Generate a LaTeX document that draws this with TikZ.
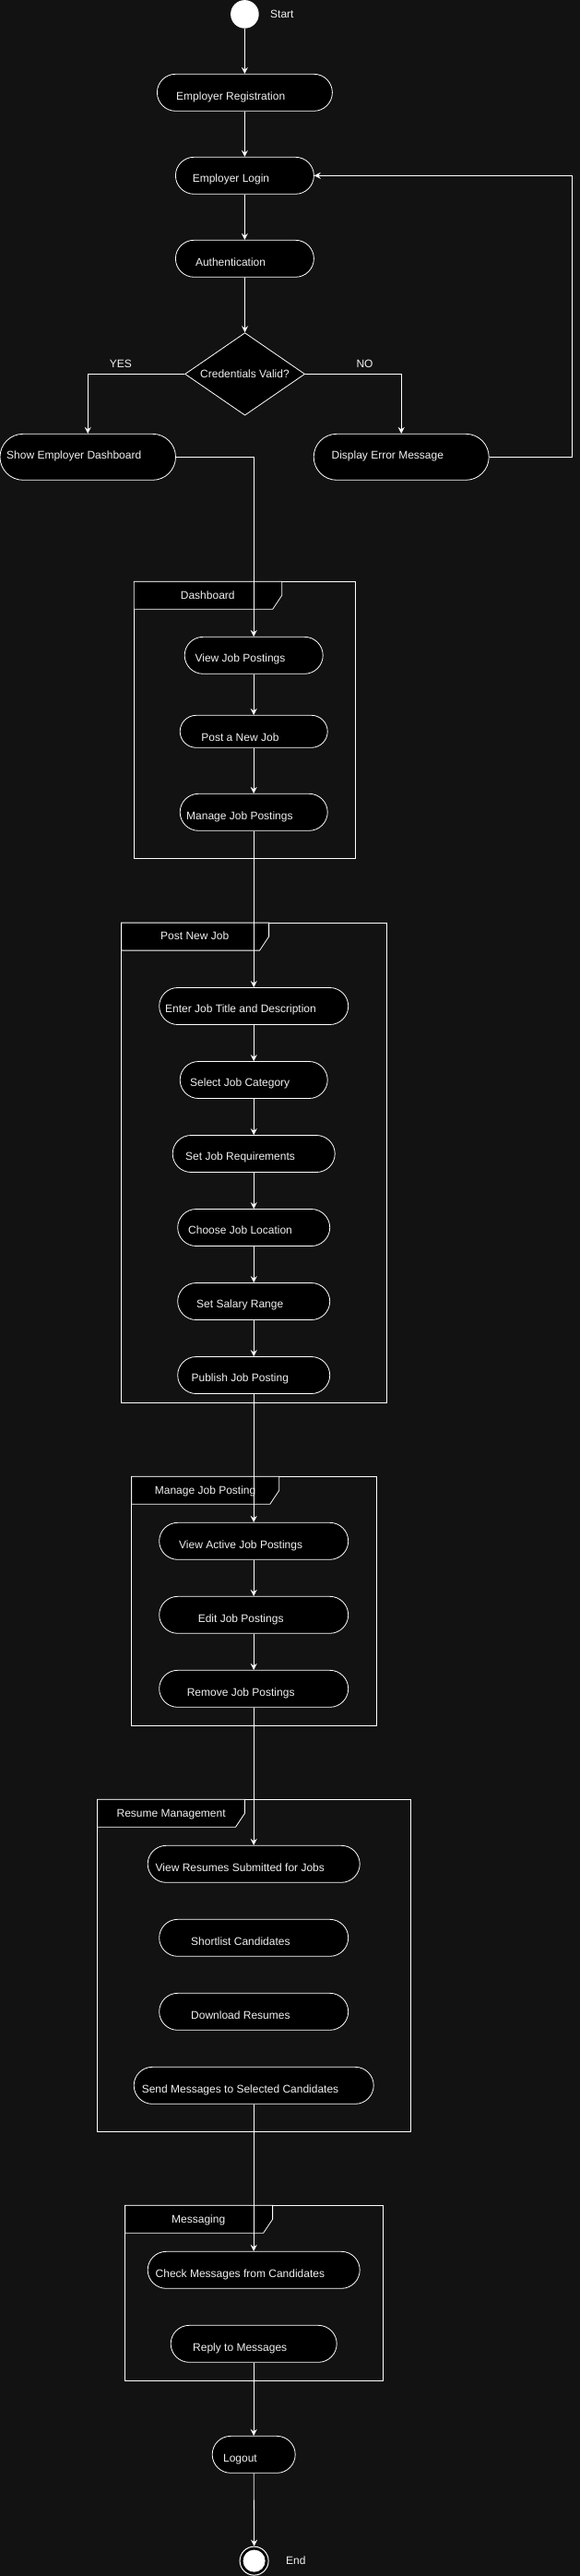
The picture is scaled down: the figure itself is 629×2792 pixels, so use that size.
\documentclass[tikz,border=0pt]{standalone}
\usepackage{fontspec}
\setmainfont{Liberation Sans}
\usetikzlibrary{shapes.misc,shapes.geometric,arrows.meta}
\definecolor{bg}{RGB}{18,18,18}
\definecolor{ink}{RGB}{240,240,240}
\begin{document}
\begin{tikzpicture}[x=1pt,y=-1pt,
  act/.style={rounded rectangle, draw=white, fill=black, line width=0.8pt, inner sep=0pt},
  lbl/.style={anchor=base west, inner sep=0pt, text=ink, font=\fontsize{12pt}{14pt}\selectfont},
  framebox/.style={draw=white, line width=0.8pt},
  tabbox/.style={draw=white, fill=black, line width=0.8pt},
  flow/.style={draw=white, line width=0.8pt, -{Stealth[length=7pt,width=7pt,inset=2.5pt]}},
  plain/.style={draw=white, line width=0.8pt}]
\fill[bg] (0,0) rectangle (629,2792);
\useasboundingbox (0,0) rectangle (629,2792);

% ---------- frames ----------
\draw[framebox] (145.2,630.3) rectangle (385.5,930.3);
\filldraw[tabbox] (145.2,630.3) -- (305.7,630.3) -- (305.7,645.3) -- (295.7,660.3) -- (145.2,660.3) -- cycle;
\node[lbl] (tdash) at (195.7,649.0) {Dashboard};

\draw[framebox] (131.6,1000.1) rectangle (419.6,1520.2);
\filldraw[tabbox] (131.6,1000.1) -- (291.6,1000.1) -- (291.6,1015.1) -- (281.6,1030.1) -- (131.6,1030.1) -- cycle;
\node[lbl] (tpost) at (174,1018.6) {Post New Job};

\draw[framebox] (142.8,1600.3) rectangle (408.3,1870.3);
\filldraw[tabbox] (142.8,1600.3) -- (302.8,1600.3) -- (302.8,1615.3) -- (292.8,1630.3) -- (142.8,1630.3) -- cycle;
\node[lbl] (tmanage) at (167.7,1619.0) {Manage Job Posting};

\draw[framebox] (105.5,1950.3) rectangle (445.2,2310.3);
\filldraw[tabbox] (105.5,1950.3) -- (265.5,1950.3) -- (265.5,1965.3) -- (255.5,1980.3) -- (105.5,1980.3) -- cycle;
\node[lbl] (tresume) at (126.4,1969.0) {Resume Management};

\draw[framebox] (135.6,2390.3) rectangle (415.6,2580.3);
\filldraw[tabbox] (135.6,2390.3) -- (295.6,2390.3) -- (295.6,2405.3) -- (285.6,2420.3) -- (135.6,2420.3) -- cycle;
\node[lbl] (tmsg) at (186,2409.0) {Messaging};

% ---------- nodes ----------
\node[circle, fill=white, minimum size=30.6pt, inner sep=0pt] (start) at (265.4,15.4) {};
\node[lbl] at (293,19.3) {Start};

\node[act, minimum width=190pt, minimum height=40pt] (reg) at (265.4,100.3) {};
\node[lbl] at (191,108.0) {Employer Registration};
\node[act, minimum width=150pt, minimum height=40pt] (login) at (265.4,190.3) {};
\node[lbl] at (208.6,197.6) {Employer Login};
\node[act, minimum width=150pt, minimum height=40pt] (auth) at (265.4,280.3) {};
\node[lbl] at (211.8,288.0) {Authentication};
\node[diamond, draw=white, fill=black, line width=0.8pt, inner sep=0pt,
      minimum width=130pt, minimum height=89.5pt] (dec) at (265.6,405.4) {};
\node[lbl] at (217,409.6) {Credentials Valid?};
\node[lbl] at (118.7,398.6) {YES};
\node[lbl] at (386.3,398.6) {NO};

\node[act, minimum width=190.5pt, minimum height=50pt] (sdash) at (95.25,495.3) {};
\node[lbl] at (7,497.8) {Show Employer Dashboard};
\node[act, minimum width=190pt, minimum height=50pt] (err) at (435.2,495.3) {};
\node[lbl] at (359.4,497.8) {Display Error Message};

\node[act, minimum width=150pt, minimum height=40pt] (vjp) at (275.2,710.3) {};
\node[lbl] at (211.4,717.6) {View Job Postings};
\node[act, minimum width=160pt, minimum height=35pt] (pnj) at (275.2,792.8) {};
\node[lbl] at (218.2,803.0) {Post a New Job};
\node[act, minimum width=160pt, minimum height=40pt] (mjp) at (275.2,880.3) {};
\node[lbl] at (202,888.0) {Manage Job Postings};

\node[act, minimum width=205pt, minimum height=40pt] (ejt) at (275.2,1090.5) {};
\node[lbl] at (179,1097.8) {Enter Job Title and Description};
\node[act, minimum width=160pt, minimum height=40pt] (sjc) at (275.2,1170.5) {};
\node[lbl] at (206,1177.8) {Select Job Category};
\node[act, minimum width=176pt, minimum height=40pt] (sjr) at (275.2,1250.5) {};
\node[lbl] at (201,1257.8) {Set Job Requirements};
\node[act, minimum width=165pt, minimum height=40pt] (cjl) at (275.2,1330.5) {};
\node[lbl] at (204,1337.8) {Choose Job Location};
\node[act, minimum width=165pt, minimum height=40pt] (ssr) at (275.2,1410.5) {};
\node[lbl] at (213,1417.7) {Set Salary Range};
\node[act, minimum width=165pt, minimum height=40pt] (pjp) at (275.2,1490.5) {};
\node[lbl] at (207.4,1497.7) {Publish Job Posting};

\node[act, minimum width=205pt, minimum height=40pt] (vaj) at (275.2,1670.3) {};
\node[lbl] at (194,1678.0) {View Active Job Postings};
\node[act, minimum width=205pt, minimum height=40pt] (ejp) at (275.2,1750.3) {};
\node[lbl] at (214.6,1758.0) {Edit Job Postings};
\node[act, minimum width=205pt, minimum height=40pt] (rjp) at (275.2,1830.3) {};
\node[lbl] at (202.6,1838.0) {Remove Job Postings};

\node[act, minimum width=230pt, minimum height=40pt] (vrs) at (275.2,2020.3) {};
\node[lbl] at (168.5,2028.0) {View Resumes Submitted for Jobs};
\node[act, minimum width=205pt, minimum height=40pt] (slc) at (275.2,2100.3) {};
\node[lbl] at (207,2108.0) {Shortlist Candidates};
\node[act, minimum width=205pt, minimum height=40pt] (dlr) at (275.2,2180.3) {};
\node[lbl] at (207,2188.0) {Download Resumes};
\node[act, minimum width=260pt, minimum height=40pt] (smc) at (275.2,2260.3) {};
\node[lbl] at (153.6,2268.0) {Send Messages to Selected Candidates};

\node[act, minimum width=230pt, minimum height=40pt] (cmc) at (275.2,2460.3) {};
\node[lbl] at (168.5,2468.0) {Check Messages from Candidates};
\node[act, minimum width=180pt, minimum height=40pt] (rtm) at (275.2,2540.3) {};
\node[lbl] at (209,2548.0) {Reply to Messages};

\node[act, minimum width=90pt, minimum height=40pt] (logout) at (275.2,2660.3) {};
\node[lbl] at (241.9,2668.0) {Logout};

\node[circle, draw=white, fill=black, line width=1pt, minimum size=31pt, inner sep=0pt] (end) at (275.6,2775.6) {};
\fill[white] (end.center) circle[radius=12pt];
\node[lbl] at (310,2779.0) {End};

% ---------- connectors ----------
\coordinate (loop) at (620.5,495.3);
\draw[flow] (start.south) -- (reg.north);
\draw[flow] (reg.south) -- (login.north);
\draw[flow] (login.south) -- (auth.north);
\draw[flow] (auth.south) -- (dec.north);
\draw[flow] (dec.west) -| (sdash.north);
\draw[flow] (dec.east) -| (err.north);
\draw[flow] (err.east) -- (loop) |- (login.east);
\draw[flow] (sdash.east) -| (vjp.north);
\draw[flow] (vjp.south) -- (pnj.north);
\draw[flow] (pnj.south) -- (mjp.north);
\draw[flow] (mjp.south) -- (ejt.north);
\draw[flow] (ejt.south) -- (sjc.north);
\draw[flow] (sjc.south) -- (sjr.north);
\draw[flow] (sjr.south) -- (cjl.north);
\draw[flow] (cjl.south) -- (ssr.north);
\draw[flow] (ssr.south) -- (pjp.north);
\draw[flow] (pjp.south) -- (vaj.north);
\draw[flow] (vaj.south) -- (ejp.north);
\draw[flow] (ejp.south) -- (rjp.north);
\draw[flow] (rjp.south) -- (vrs.north);
\draw[flow] (smc.south) -- (cmc.north);
\draw[flow] (rtm.south) -- (logout.north);
\draw[flow] (logout.south) -- (end.north);
\end{tikzpicture}
\end{document}
